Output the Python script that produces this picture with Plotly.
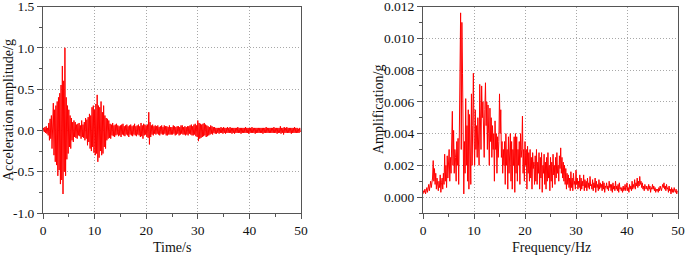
import plotly.graph_objects as go

# Time history: acceleration (units of 0.01 g), 8 samples per second (step 0.125 s)
accel_rows = [
    [0, 3, -2, 4, -3, 5, -4, 3],
    [-6, 9, -12, 14, -10, 18, -22, 20],
    [33, -30, 25, -38, 30, -42, 35, -55],
    [40, -48, 45, -65, 55, -60, 78, -77],
    [60, -50, 100, -55, 40, -35, 30, -28],
    [25, -20, 18, -22, 15, -12, 10, -14],
    [12, -8, 10, -9, 7, -10, 8, -6],
    [9, -7, 6, -10, 12, -8, 7, -9],
    [10, -12, 15, -10, 13, -18, 16, -14],
    [20, -22, 18, -25, 28, -20, 30, -27],
    [25, -30, 32, -28, 43, -38, 30, -33],
    [28, -25, 35, -30, 22, -28, 30, -20],
    [18, -22, 15, -12, 14, -10, 12, -9],
    [8, -10, 7, -6, 9, -7, 6, -8],
    [7, -6, 8, -5, 6, -7, 5, -6],
    [6, -8, 7, -5, 8, -6, 5, -7],
    [6, -5, 7, -6, 5, -8, 6, -5],
    [7, -6, 5, -7, 6, -5, 8, -6],
    [5, -7, 6, -5, 7, -6, 5, -8],
    [9, -7, 6, -10, 8, -6, 7, -5],
    [6, -8, 7, -9, 22, -17, 10, -8],
    [6, -5, 7, -6, 5, -4, 6, -5],
    [5, -4, 6, -5, 4, -6, 5, -4],
    [6, -5, 4, -5, 6, -4, 5, -6],
    [5, -6, 4, -5, 6, -5, 4, -5],
    [4, -5, 6, -4, 5, -6, 4, -5],
    [5, -4, 5, -6, 4, -5, 6, -4],
    [6, -5, 4, -5, 5, -6, 4, -5],
    [5, -6, 5, -4, 6, -5, 7, -6],
    [5, -6, 7, -5, 8, -7, 6, -8],
    [12, -13, 9, -10, 8, -9, 7, -8],
    [8, -7, 9, -6, 7, -8, 6, -7],
    [5, -6, 4, -5, 6, -4, 5, -5],
    [4, -3, 4, -4, 3, -4, 3, -3],
    [3, -4, 3, -3, 4, -3, 3, -4],
    [4, -3, 3, -4, 3, -3, 4, -3],
    [3, -3, 4, -3, 3, -4, 3, -3],
    [3, -4, 3, -3, 3, -3, 4, -3],
    [3, -3, 3, -4, 3, -3, 3, -3],
    [3, -3, 4, -3, 3, -3, 3, -4],
    [3, -3, 3, -3, 4, -3, 3, -3],
    [3, -4, 3, -3, 3, -3, 3, -3],
    [3, -3, 3, -3, 3, -4, 3, -3],
    [3, -3, 4, -3, 3, -3, 3, -3],
    [3, -3, 3, -3, 3, -3, 4, -3],
    [3, -3, 3, -4, 3, -3, 3, -3],
    [5, -4, 3, -3, 3, -5, 4, -3],
    [3, -3, 4, -3, 3, -3, 3, -3],
    [3, -4, 3, -3, 3, -3, 4, -3],
    [3, -3, 3, -3, 2, -3, 3, -2],
]

# Fourier amplitude spectrum (units of 1e-4 g), 8 samples per Hz (step 0.125 Hz)
spec_rows = [
    [2, 4, 3, 5, 2, 4, 6, 3],
    [5, 8, 4, 7, 10, 6, 9, 12],
    [23, 10, 18, 8, 15, 5, 12, 7],
    [4, 10, 6, 14, 3, 9, 12, 5],
    [15, 8, 27, 10, 20, 6, 26, 12],
    [18, 30, 10, 25, 15, 28, 54, 20],
    [42, 15, 30, 25, 10, 35, 20, 37],
    [8, 40, 90, 116, 30, 110, 78, 20],
    [2, 35, 15, 62, 20, 45, 10, 55],
    [5, 52, 30, 8, 65, 20, 45, 78],
    [40, 20, 55, 30, 45, 25, 50, 35],
    [20, 71, 40, 30, 70, 50, 60, 35],
    [25, 55, 72, 45, 60, 30, 58, 40],
    [20, 56, 35, 50, 25, 45, 30, 40],
    [10, 48, 30, 40, 15, 38, 25, 35],
    [65, 40, 55, 25, 35, 15, 30, 20],
    [35, 8, 40, 20, 30, 5, 38, 15],
    [25, 40, 10, 35, 5, 30, 20, 38],
    [3, 40, 15, 38, 10, 30, 20, 35],
    [8, 40, 25, 30, 51, 15, 30, 10],
    [35, 20, 30, 5, 32, 15, 28, 10],
    [30, 12, 25, 5, 28, 18, 22, 8],
    [26, 10, 30, 8, 22, 15, 28, 5],
    [25, 12, 28, 3, 20, 15, 27, 8],
    [22, 5, 25, 10, 28, 12, 20, 4],
    [25, 10, 22, 6, 27, 14, 20, 8],
    [25, 12, 28, 15, 20, 10, 26, 18],
    [31, 15, 25, 12, 22, 10, 20, 8],
    [18, 5, 15, 8, 14, 6, 12, 4],
    [16, 6, 12, 4, 15, 8, 10, 5],
    [17, 8, 12, 5, 10, 6, 14, 4],
    [12, 5, 10, 7, 14, 4, 11, 6],
    [10, 4, 12, 6, 9, 5, 13, 7],
    [8, 5, 11, 4, 9, 6, 12, 3],
    [10, 6, 8, 4, 11, 5, 9, 6],
    [8, 4, 10, 5, 9, 3, 7, 6],
    [9, 5, 7, 4, 10, 6, 8, 4],
    [8, 3, 9, 5, 7, 4, 10, 5],
    [7, 4, 8, 3, 9, 5, 6, 4],
    [6, 3, 7, 4, 5, 8, 4, 6],
    [9, 4, 6, 3, 8, 5, 7, 4],
    [10, 5, 8, 6, 11, 5, 9, 7],
    [12, 6, 10, 7, 13, 8, 10, 6],
    [9, 5, 7, 4, 8, 6, 5, 7],
    [6, 4, 8, 5, 7, 3, 6, 5],
    [8, 5, 7, 4, 6, 3, 5, 4],
    [5, 3, 6, 4, 7, 5, 4, 6],
    [8, 6, 9, 5, 7, 4, 8, 5],
    [6, 3, 7, 4, 5, 2, 6, 3],
    [5, 3, 6, 4, 3, 5, 2, 4],
]

samples_per_unit = 8
accel = [v * 0.01 for row in accel_rows for v in row]
time = [i / samples_per_unit for i in range(len(accel))]
spec = [v * 1e-4 for row in spec_rows for v in row]
freq = [i / samples_per_unit for i in range(len(spec))]

left_xticks = [0, 10, 20, 30, 40, 50]
left_yticks = [-1.0, -0.5, 0.0, 0.5, 1.0, 1.5]
right_xticks = [0, 10, 20, 30, 40, 50]
right_yticks = [0.000, 0.002, 0.004, 0.006, 0.008, 0.010, 0.012]

W, H = 685, 257
FONT = "Times New Roman, Liberation Serif, serif"
RED = "#ff0000"
AX = "#555555"

fig = go.Figure()
fig.add_trace(go.Scatter(x=time, y=accel, mode="lines", line=dict(color=RED, width=1),
                         xaxis="x", yaxis="y", showlegend=False))
fig.add_trace(go.Scatter(x=freq, y=spec, mode="lines", line=dict(color=RED, width=1),
                         xaxis="x2", yaxis="y2", showlegend=False))

def px_x(p):
    return p / W

def px_y(p):
    return 1 - p / H

common = dict(
    showline=True, linecolor=AX, linewidth=1, mirror=True,
    ticks="outside", ticklen=5, tickwidth=1, tickcolor=AX,
    showgrid=True, gridcolor="#a8a8a8", gridwidth=1, griddash="1px,2px",
    zeroline=False, ticklabeloverflow="allow",
    tickfont=dict(family=FONT, size=13.5, color="#111"),
)

fig.update_layout(
    width=W, height=H,
    margin=dict(l=0, r=0, t=0, b=0, autoexpand=False),
    paper_bgcolor="white", plot_bgcolor="white",
    xaxis=dict(domain=[px_x(43), px_x(301)], range=[0, 50], anchor="y",
               tickvals=left_xticks, ticktext=[str(v) for v in left_xticks],
               minor=dict(dtick=5, ticks="outside", ticklen=3, tickcolor=AX, showgrid=False),
               **common),
    yaxis=dict(domain=[px_y(213), px_y(6.5)], range=[-1.0, 1.5], anchor="x",
               tickvals=left_yticks, ticktext=[f"{v:.1f}" for v in left_yticks],
               minor=dict(dtick=0.25, ticks="outside", ticklen=3, tickcolor=AX, showgrid=False),
               **common),
    xaxis2=dict(domain=[px_x(423), px_x(678)], range=[0, 50], anchor="y2",
                tickvals=right_xticks, ticktext=[str(v) for v in right_xticks],
                minor=dict(dtick=5, ticks="outside", ticklen=3, tickcolor=AX, showgrid=False),
                **common),
    yaxis2=dict(domain=[px_y(213), px_y(6.5)], range=[-0.001, 0.012], anchor="x2",
                tickvals=right_yticks, ticktext=[f"{v:.3f}" for v in right_yticks],
                minor=dict(dtick=0.001, ticks="outside", ticklen=3, tickcolor=AX, showgrid=False),
                **common),
)

title_font = dict(family=FONT, size=14, color="#111")
fig.add_annotation(text="Time/s", x=px_x(172), y=px_y(247), xref="paper", yref="paper",
                   showarrow=False, font=title_font, xanchor="center", yanchor="middle")
fig.add_annotation(text="Frequency/Hz", x=px_x(551), y=px_y(247), xref="paper", yref="paper",
                   showarrow=False, font=title_font, xanchor="center", yanchor="middle")
fig.add_annotation(text="Acceleration amplitude/g", x=px_x(8), y=px_y(110), xref="paper", yref="paper",
                   showarrow=False, font=title_font, textangle=-90, xanchor="center", yanchor="middle")
fig.add_annotation(text="Amplification/g", x=px_x(378), y=px_y(110), xref="paper", yref="paper",
                   showarrow=False, font=title_font, textangle=-90, xanchor="center", yanchor="middle")

fig.write_html("out.html",
               config={"displayModeBar": False, "staticPlot": True},
               post_script="document.body.style.margin='0';document.body.style.overflow='hidden';")
